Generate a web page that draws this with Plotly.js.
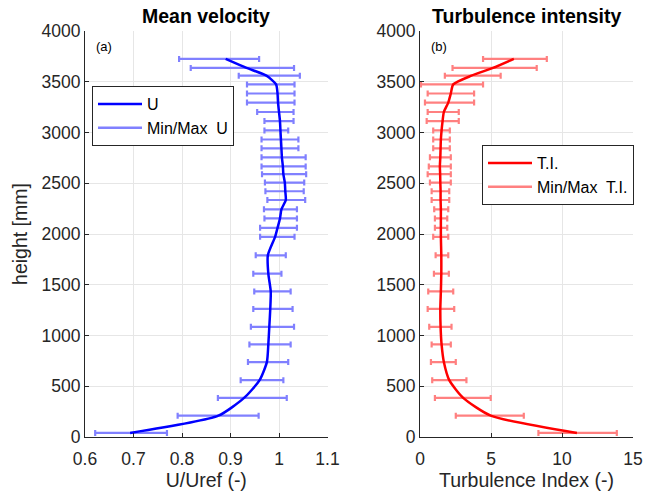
<!DOCTYPE html>
<html>
<head>
<meta charset="utf-8">
<script src="https://cdn.plot.ly/plotly-3.0.1.min.js"></script>
<style>html,body{margin:0;padding:0;background:#fff;}#chart{width:654px;height:493px;}</style>
</head>
<body>
<div id="chart"></div>
<script>
// heights [mm]
var heights = [40, 210, 385, 560, 738, 912, 1085, 1262, 1434, 1609, 1790, 1972, 2061, 2153, 2243, 2335, 2421, 2507, 2589, 2666, 2755, 2844, 2931, 3020, 3113, 3202, 3295, 3384, 3474, 3560, 3636, 3725];
// mean velocity U/Uref
var uMean = [0.693, 0.875, 0.928, 0.960, 0.975, 0.978, 0.980, 0.982, 0.983, 0.978, 0.977, 0.992, 0.997, 1.002, 1.005, 1.014, 1.013, 1.012, 1.009, 1.008, 1.006, 1.005, 1.004, 1.003, 1.002, 1.000, 0.998, 0.997, 0.994, 0.974, 0.933, 0.890];
var uMin = [0.621, 0.791, 0.874, 0.921, 0.936, 0.939, 0.942, 0.947, 0.949, 0.947, 0.952, 0.961, 0.961, 0.970, 0.969, 0.976, 0.972, 0.971, 0.965, 0.964, 0.964, 0.964, 0.964, 0.970, 0.970, 0.955, 0.934, 0.934, 0.934, 0.917, 0.818, 0.794];
var uMax = [0.769, 0.958, 1.016, 1.009, 1.019, 1.024, 1.031, 1.028, 1.024, 1.005, 1.014, 1.032, 1.037, 1.037, 1.037, 1.054, 1.051, 1.052, 1.056, 1.055, 1.055, 1.040, 1.040, 1.019, 1.030, 1.030, 1.032, 1.032, 1.032, 1.043, 1.031, 0.959];
// turbulence intensity
var tiMean = [11.05, 4.98, 3.04, 2.06, 1.68, 1.52, 1.45, 1.43, 1.47, 1.50, 1.50, 1.47, 1.47, 1.47, 1.47, 1.45, 1.45, 1.43, 1.42, 1.40, 1.43, 1.45, 1.47, 1.52, 1.59, 1.68, 1.99, 2.17, 2.34, 3.62, 5.14, 6.61];
var tiMin = [8.34, 2.52, 1.05, 0.86, 0.77, 0.82, 0.65, 0.54, 0.58, 0.98, 1.10, 0.93, 1.05, 1.05, 1.00, 0.82, 0.82, 0.70, 0.54, 0.62, 0.70, 0.93, 0.93, 0.93, 0.47, 0.54, 0.35, 0.54, 0.07, 1.75, 2.29, 4.44];
var tiMax = [13.86, 7.31, 4.98, 3.27, 2.52, 2.17, 2.22, 2.41, 2.34, 2.03, 1.99, 1.99, 1.92, 1.92, 1.99, 2.06, 2.06, 2.17, 2.17, 2.17, 2.17, 2.10, 2.10, 2.10, 2.73, 2.73, 3.81, 3.81, 4.44, 5.68, 8.22, 8.93];

var xTicksU = [0.6, 0.7, 0.8, 0.9, 1, 1.1];
var xTicksTI = [0, 5, 10, 15];
var yTicks = [0, 500, 1000, 1500, 2000, 2500, 3000, 3500, 4000];

var blue = 'rgb(0,0,255)', lblue = 'rgb(128,128,255)';
var red = 'rgb(255,0,0)', lred = 'rgb(255,128,128)';
var FONT = 'Liberation Sans, Arial, Helvetica, sans-serif';

function diff(a, b) { return a.map(function (v, i) { return v - b[i]; }); }

var traces = [
  {x: uMean, y: heights, xaxis: 'x', yaxis: 'y', mode: 'markers', type: 'scatter',
   marker: {size: 2, opacity: 0}, showlegend: false, hoverinfo: 'skip',
   error_x: {type: 'data', symmetric: false, array: diff(uMax, uMean), arrayminus: diff(uMean, uMin),
             color: lblue, thickness: 2.2, width: 3}},
  {x: uMean, y: heights, xaxis: 'x', yaxis: 'y', mode: 'lines', type: 'scatter', name: 'U',
   line: {color: blue, width: 2.5, shape: 'spline', smoothing: 0.6}, legend: 'legend'},
  {x: [null], y: [null], xaxis: 'x', yaxis: 'y', mode: 'lines', type: 'scatter', name: 'Min/Max  U',
   line: {color: lblue, width: 2.5}, legend: 'legend'},

  {x: tiMean, y: heights, xaxis: 'x2', yaxis: 'y2', mode: 'markers', type: 'scatter',
   marker: {size: 2, opacity: 0}, showlegend: false, hoverinfo: 'skip',
   error_x: {type: 'data', symmetric: false, array: diff(tiMax, tiMean), arrayminus: diff(tiMean, tiMin),
             color: lred, thickness: 2.2, width: 3}},
  {x: tiMean, y: heights, xaxis: 'x2', yaxis: 'y2', mode: 'lines', type: 'scatter', name: 'T.I.',
   line: {color: red, width: 2.5, shape: 'spline', smoothing: 0.6}, legend: 'legend2'},
  {x: [null], y: [null], xaxis: 'x2', yaxis: 'y2', mode: 'lines', type: 'scatter', name: 'Min/Max  T.I.',
   line: {color: lred, width: 2.5}, legend: 'legend2'}
];

var axCommon = {
  showline: true, linecolor: '#262626', linewidth: 1, mirror: false,
  ticks: 'inside', ticklen: 4, tickcolor: '#262626',
  showgrid: true, gridcolor: '#e6e6e6', gridwidth: 1, zeroline: false,
  tickfont: {family: FONT, size: 17.5, color: '#262626'}
};
function ax(extra) { var o = {}; for (var k in axCommon) o[k] = axCommon[k]; for (var k2 in extra) o[k2] = extra[k2]; return o; }

var L = 85, R = 21, T = 31, B = 56, W = 654 - L - R;
var TF = {family: FONT, size: 19.5, color: '#262626'};
var layout = {
  width: 654, height: 493,
  margin: {l: L, r: R, t: T, b: B, pad: 0},
  paper_bgcolor: '#fff', plot_bgcolor: '#fff',
  font: {family: FONT, color: '#262626'},
  xaxis: ax({domain: [0, (327.5 - L) / W], range: [0.6, 1.1], tickvals: xTicksU, anchor: 'y',
             ticklabelstandoff: 6, title: {text: 'U/Uref (-)', font: TF, standoff: 4}}),
  yaxis: ax({domain: [0, 1], range: [0, 4000], tickvals: yTicks, anchor: 'x',
             title: {text: 'height [mm]', font: TF, standoff: 8}}),
  xaxis2: ax({domain: [(420 - L) / W, 1], range: [0, 15], tickvals: xTicksTI, anchor: 'y2',
              ticklabelstandoff: 6, title: {text: 'Turbulence Index (-)', font: TF, standoff: 4}}),
  yaxis2: ax({domain: [0, 1], range: [0, 4000], tickvals: yTicks, anchor: 'x2'}),
  legend: {x: (92 - L) / W, y: 1 - (86 - T) / 405.7, xanchor: 'left', yanchor: 'top',
           bgcolor: '#fff', bordercolor: '#262626', borderwidth: 1, itemwidth: 44,
           font: {family: FONT, size: 16, color: '#000'}, traceorder: 'normal'},
  legend2: {x: (482 - L) / W, y: 1 - (145 - T) / 405.7, xanchor: 'left', yanchor: 'top',
            bgcolor: '#fff', bordercolor: '#262626', borderwidth: 1, itemwidth: 44,
            font: {family: FONT, size: 16, color: '#000'}, traceorder: 'normal'},
  annotations: [
    {text: '<b>Mean velocity</b>', xref: 'paper', yref: 'paper', x: (206 - L) / W, y: 1, yshift: 2,
     xanchor: 'center', yanchor: 'bottom', showarrow: false, font: {family: FONT, size: 19.5, color: '#000'}},
    {text: '<b>Turbulence intensity</b>', xref: 'paper', yref: 'paper', x: (526.5 - L) / W, y: 1, yshift: 2,
     xanchor: 'center', yanchor: 'bottom', showarrow: false, font: {family: FONT, size: 19.5, color: '#000'}},
    {text: '(a)', xref: 'paper', yref: 'paper', x: (94 - L) / W, y: 1 - (46 - T) / 405.7,
     xanchor: 'left', yanchor: 'middle', showarrow: false, font: {family: FONT, size: 13, color: '#000'}},
    {text: '(b)', xref: 'paper', yref: 'paper', x: (429 - L) / W, y: 1 - (46 - T) / 405.7,
     xanchor: 'left', yanchor: 'middle', showarrow: false, font: {family: FONT, size: 13, color: '#000'}}
  ]
};

Plotly.newPlot('chart', traces, layout, {staticPlot: true, displayModeBar: false});
</script>
</body>
</html>
